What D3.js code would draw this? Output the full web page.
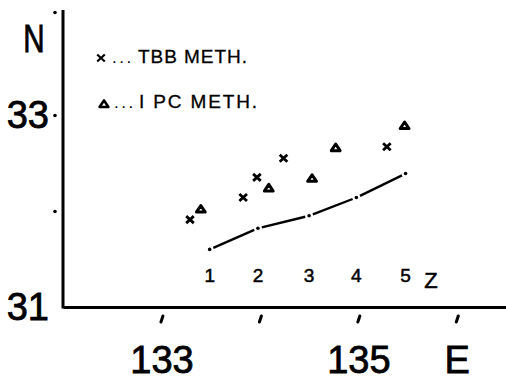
<!DOCTYPE html>
<html lang="en">
<head>
<meta charset="UTF-8" />
<title>TBB / IPC epicenter positions</title>
<script src="https://d3js.org/d3.v7.min.js"></script>
<style>
  body { margin: 0; background: #fff; }
  svg text { font-family: "Liberation Sans", sans-serif; fill: #000; }
</style>
</head>
<body>
<svg width="506" height="382"></svg>
<script>
  // axis ticks and their labels
  const lonTicks = [133, 134, 135, 136];
  const lonLabels = ["133", "", "135", "E"];
  const latTicks = [31, 32, 33, 34];
  const latLabels = ["31", "", "33", ""];

  // TBB method (x marks)
  const tbbLon = [133.29, 133.83, 133.97, 134.24, 135.29];
  const tbbLat = [31.91, 32.14, 32.35, 32.55, 32.67];

  // IPC method (triangles)
  const ipcLon = [133.40, 134.09, 134.53, 134.77, 135.47];
  const ipcLat = [32.02, 32.24, 32.34, 32.66, 32.89];

  // track line, points 1..5
  const zLon = [133.49, 133.98, 134.50, 134.98, 135.48];
  const zLat = [31.60, 31.82, 31.95, 32.14, 32.39];
  const zLabels = ["1", "2", "3", "4", "5"];

  const svg = d3.select("svg");

  const x = d3.scaleLinear().domain([132, 136.5]).range([63, 506]);
  const y = d3.scaleLinear().domain([31, 34]).range([307, 19]);

  // x axis
  const gx = svg.append("g")
    .attr("transform", `translate(0,${y(31)})`)
    .call(d3.axisBottom(x)
      .tickValues(lonTicks)
      .tickFormat((d, i) => lonLabels[i])
      .tickSize(0)
      .tickPadding(39));
  gx.select(".domain").attr("stroke-width", 3);
  gx.selectAll(".tick text")
    .attr("font-size", 38).attr("font-family", "Liberation Sans")
    .attr("stroke", "#000").attr("stroke-width", 0.8);
  gx.selectAll(".tick").append("line")
    .attr("x1", -1).attr("y1", 15).attr("x2", 1).attr("y2", 9)
    .attr("stroke", "#000").attr("stroke-width", 3).attr("stroke-linecap", "round");

  // y axis
  const gy = svg.append("g")
    .attr("transform", `translate(${x(132)},0)`)
    .call(d3.axisLeft(y)
      .tickValues(latTicks)
      .tickFormat((d, i) => latLabels[i])
      .tickSize(0)
      .tickPadding(14));
  gy.select(".domain").remove();
  gy.append("line")
    .attr("x1", 0).attr("x2", 0)
    .attr("y1", y(31) + 1.5).attr("y2", 10)
    .attr("stroke", "#000").attr("stroke-width", 3);
  gy.selectAll(".tick text")
    .attr("font-size", 38).attr("font-family", "Liberation Sans")
    .attr("stroke", "#000").attr("stroke-width", 0.8);
  gy.selectAll(".tick").filter(d => d !== 31).append("circle")
    .attr("cx", -8).attr("cy", d => d === 34 ? -7 : 0).attr("r", 1.8).attr("fill", "#000");

  svg.append("text")
    .attr("transform", "translate(34,52) scale(0.78,1)")
    .attr("text-anchor", "middle")
    .attr("font-size", 38)
    .attr("stroke", "#000").attr("stroke-width", 0.8)
    .text("N");

  // markers
  const crossPath = "M-3.8,-3.5L3.8,3.5M-3.8,3.5L3.8,-3.5";
  const triPath = "M0,-3.6L4.4,3L-4.4,3Z";

  svg.append("g").selectAll("path")
    .data(tbbLon)
    .join("path")
    .attr("transform", (d, i) => `translate(${x(d)},${y(tbbLat[i])})`)
    .attr("d", crossPath)
    .attr("stroke", "#000").attr("stroke-width", 2.8).attr("fill", "none");

  svg.append("g").selectAll("path")
    .data(ipcLon)
    .join("path")
    .attr("transform", (d, i) => `translate(${x(d)},${y(ipcLat[i])})`)
    .attr("d", triPath)
    .attr("stroke", "#000").attr("stroke-width", 3).attr("fill", "#fff")
    .attr("stroke-linejoin", "round");

  // track: dash-dot style, gaps around each vertex dot
  const pts = zLon.map((d, i) => [x(d), y(zLat[i])]);
  const gap = 4;
  const track = svg.append("g");
  for (let i = 0; i < pts.length - 1; i++) {
    const [x0, y0] = pts[i], [x1, y1] = pts[i + 1];
    const len = Math.hypot(x1 - x0, y1 - y0);
    const ux = (x1 - x0) / len, uy = (y1 - y0) / len;
    track.append("line")
      .attr("x1", x0 + ux * gap).attr("y1", y0 + uy * gap)
      .attr("x2", x1 - ux * gap).attr("y2", y1 - uy * gap)
      .attr("stroke", "#000").attr("stroke-width", 2.4);
  }
  track.selectAll("circle")
    .data(pts)
    .join("circle")
    .attr("cx", d => d[0]).attr("cy", d => d[1])
    .attr("r", 1.8).attr("fill", "#000");

  svg.append("g").selectAll("text")
    .data(zLabels)
    .join("text")
    .attr("x", (d, i) => x(zLon[i]))
    .attr("y", 282)
    .attr("text-anchor", "middle")
    .attr("font-size", 19)
    .attr("stroke", "#000").attr("stroke-width", 0.5)
    .text(d => d);

  svg.append("text")
    .attr("x", 431).attr("y", 288)
    .attr("text-anchor", "middle")
    .attr("font-size", 22)
    .attr("stroke", "#000").attr("stroke-width", 0.5)
    .text("Z");

  // legend
  const legend = svg.append("g");
  legend.append("path")
    .attr("transform", "translate(101,58)")
    .attr("d", crossPath)
    .attr("stroke", "#000").attr("stroke-width", 2.2).attr("fill", "none");
  legend.append("text").attr("x", 112).attr("y", 63).attr("font-size", 17)
    .attr("letter-spacing", 2.5).text("...");
  legend.append("text").attr("x", 138).attr("y", 63).attr("font-size", 19)
    .attr("stroke", "#000").attr("stroke-width", 0.3)
    .attr("textLength", 109).attr("lengthAdjust", "spacing").text("TBB METH.");

  legend.append("path")
    .attr("transform", "translate(104,104)")
    .attr("d", triPath)
    .attr("stroke", "#000").attr("stroke-width", 2.6).attr("fill", "#fff")
    .attr("stroke-linejoin", "round");
  legend.append("text").attr("x", 114).attr("y", 108).attr("font-size", 17)
    .attr("letter-spacing", 2.5).text("...");
  legend.append("text").attr("x", 139).attr("y", 108).attr("font-size", 19)
    .attr("stroke", "#000").attr("stroke-width", 0.3)
    .attr("textLength", 118).attr("lengthAdjust", "spacing").text("I PC METH.");
</script>
</body>
</html>
